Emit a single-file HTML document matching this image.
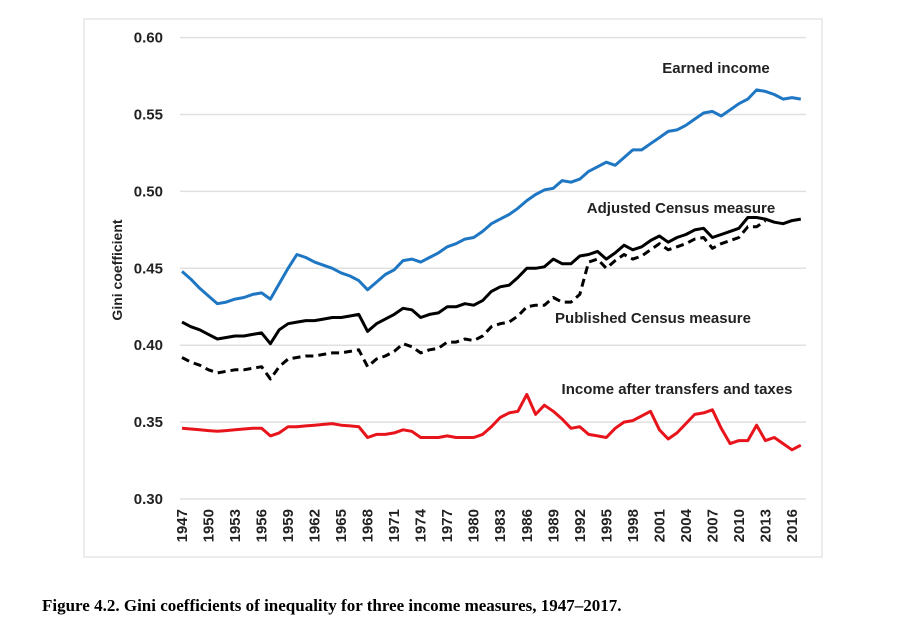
<!DOCTYPE html>
<html><head><meta charset="utf-8"><style>
body{margin:0;background:#fff;width:900px;height:631px;overflow:hidden}
svg text{font-family:"Liberation Sans",sans-serif}
</style></head><body>
<svg width="900" height="631">
<rect x="84" y="19" width="738" height="538" fill="none" stroke="#e6e6e6" stroke-width="1.5"/>
<g id="grid"></g><g id="yt"></g><g id="xt"></g><g id="lines"></g>
<text transform="translate(122,270) rotate(-90)" text-anchor="middle" font-size="14" font-weight="bold" fill="#222">Gini coefficient</text>
<text x="716" y="73" text-anchor="middle" font-size="15" font-weight="bold" fill="#222">Earned income</text>
<text x="681" y="213" text-anchor="middle" font-size="15" font-weight="bold" fill="#222">Adjusted Census measure</text>
<text x="653" y="323" text-anchor="middle" font-size="15" font-weight="bold" fill="#222">Published Census measure</text>
<text x="677" y="394" text-anchor="middle" font-size="15" font-weight="bold" fill="#222">Income after transfers and taxes</text>
<text x="42" y="611" font-size="17" font-weight="bold" fill="#000" style="font-family:'Liberation Serif',serif">Figure 4.2. Gini coefficients of inequality for three income measures, 1947–2017.</text>
</svg>
<script>
const years=[];for(let y=1947;y<=2017;y++)years.push(y);
const yTicks=[0.30,0.35,0.40,0.45,0.50,0.55,0.60];
const xTickYears=[1947,1950,1953,1956,1959,1962,1965,1968,1971,1974,1977,1980,1983,1986,1989,1992,1995,1998,2001,2004,2007,2010,2013,2016];
const earned=[.448,.443,.437,.432,.427,.428,.430,.431,.433,.434,.430,.440,.450,.459,.457,.454,.452,.450,.447,.445,.442,.436,.441,.446,.449,.455,.456,.454,.457,.460,.464,.466,.469,.470,.474,.479,.482,.485,.489,.494,.498,.501,.502,.507,.506,.508,.513,.516,.519,.517,.522,.527,.527,.531,.535,.539,.540,.543,.547,.551,.552,.549,.553,.557,.560,.566,.565,.563,.560,.561,.560];
const adjusted=[.415,.412,.410,.407,.404,.405,.406,.406,.407,.408,.401,.410,.414,.415,.416,.416,.417,.418,.418,.419,.420,.409,.414,.417,.420,.424,.423,.418,.420,.421,.425,.425,.427,.426,.429,.435,.438,.439,.444,.450,.450,.451,.456,.453,.453,.458,.459,.461,.456,.460,.465,.462,.464,.468,.471,.467,.470,.472,.475,.476,.470,.472,.474,.476,.483,.483,.482,.480,.479,.481,.482];
const published=[.392,.389,.387,.384,.382,.383,.384,.384,.385,.386,.378,.386,.391,.392,.393,.393,.394,.395,.395,.396,.397,.386,.391,.393,.396,.401,.399,.395,.397,.398,.402,.402,.404,.403,.406,.412,.414,.415,.419,.425,.426,.426,.431,.428,.428,.433,.454,.456,.450,.455,.459,.456,.458,.462,.466,.462,.464,.466,.469,.470,.463,.466,.468,.470,.477,.477,.481,null,null,null,null];
const afterTax=[.346,.3455,.345,.3445,.344,.3445,.345,.3455,.346,.346,.341,.343,.347,.347,.3475,.348,.3485,.349,.348,.3475,.347,.340,.342,.342,.343,.345,.344,.340,.340,.340,.341,.340,.340,.340,.342,.347,.353,.356,.357,.368,.355,.361,.357,.352,.346,.347,.342,.341,.340,.346,.350,.351,.354,.357,.345,.339,.343,.349,.355,.356,.358,.346,.336,.338,.338,.348,.338,.340,.336,.332,.335];
const X=y=>182+(y-1947)*8.84;
const Y=v=>499-(v-0.30)/0.05*76.9;
const NS="http://www.w3.org/2000/svg";
function mk(tag,attrs,parent,txt){const e=document.createElementNS(NS,tag);for(const k in attrs)e.setAttribute(k,attrs[k]);if(txt!=null)e.textContent=txt;document.getElementById(parent).appendChild(e);return e;}
yTicks.forEach(v=>{
 const g=mk('line',{x1:180,x2:806,y1:Y(v),y2:Y(v),stroke:'#e0e0e0','stroke-width':1.5},'grid');
 
 
 const t=mk('text',{x:163,y:Y(v)+5,'text-anchor':'end','font-size':15,'font-weight':'bold',fill:'#222'},'yt',v.toFixed(2));
 
 
});
xTickYears.forEach(yr=>{
 const t=mk('text',{transform:`translate(${X(yr)+5},509) rotate(-90)`,'text-anchor':'end','font-size':15,'font-weight':'bold',fill:'#222'},'xt',String(yr));
 
 
});
function path(arr){let d='',pen=false;arr.forEach((v,i)=>{if(v==null){pen=false;return;}d+=(pen?'L':'M')+X(years[i]).toFixed(1)+','+Y(v).toFixed(1);pen=true;});return d;}
const series=[[earned,'#1f77c4','','earned-income-line'],[adjusted,'#000','','adjusted-census-line'],[published,'#000','8,5','published-census-line'],[afterTax,'#e8141b','','income-after-transfers-line']];
series.forEach(s=>{
 const p=mk('path',{d:path(s[0]),fill:'none',stroke:s[1],'stroke-width':3,'stroke-linejoin':'round','stroke-dasharray':s[2]||'none'},'lines');
 
 
});
</script>
</body></html>
